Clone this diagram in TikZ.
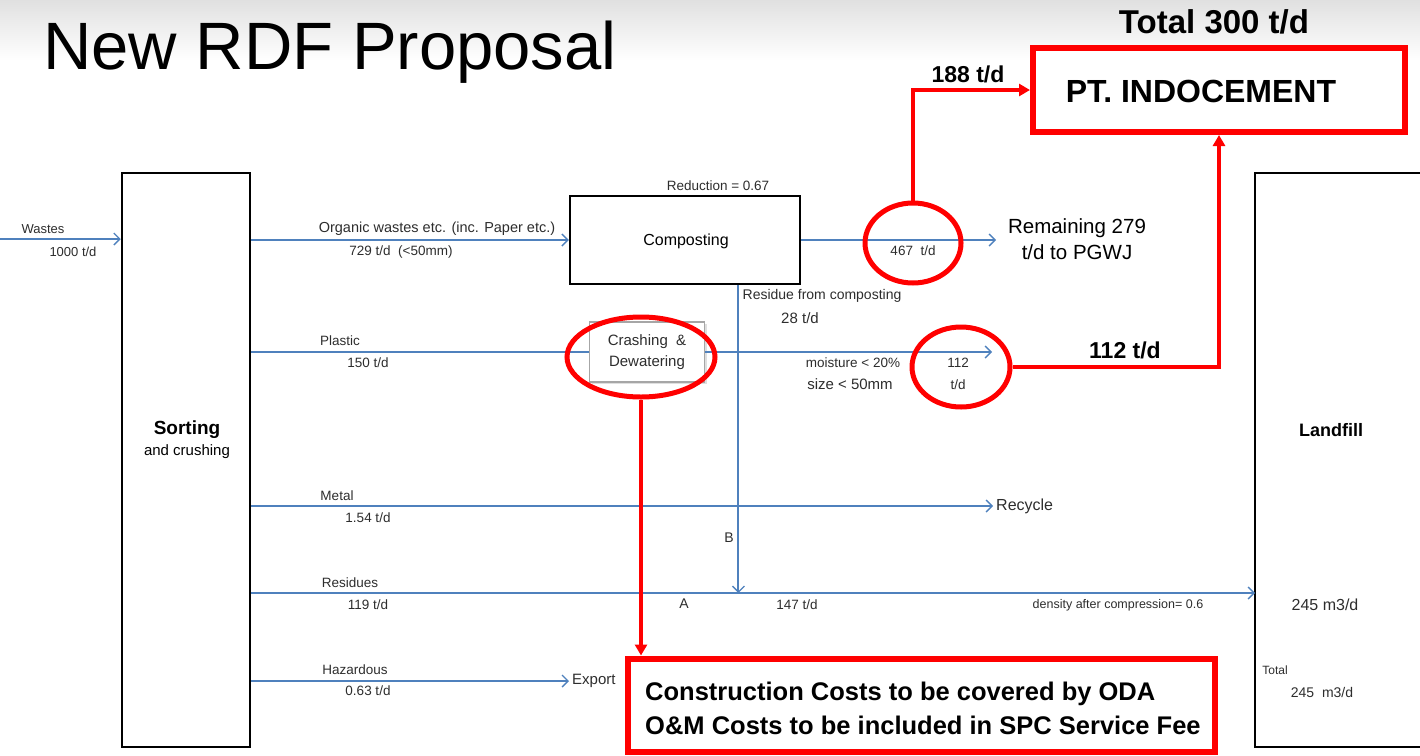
\documentclass[tikz,border=0pt]{standalone}
\usepackage{fontspec}
\setmainfont{Liberation Sans}
\usetikzlibrary{arrows.meta,shapes.geometric,shadows,calc}
\definecolor{flowblue}{RGB}{79,129,189}
\definecolor{txtgray}{RGB}{45,45,45}
\newcommand{\fs}[1]{\fontsize{#1}{#1}\selectfont}
\begin{document}
\begin{tikzpicture}[x=1pt,y=-1pt,
  lbl/.style={font=\fs{13.5}, text=txtgray, inner sep=0pt},
  flow/.style={draw=flowblue, line width=2pt, -{Straight Barb[length=6pt,width=12pt,line width=1.4pt]}},
  flowplain/.style={draw=flowblue, line width=2pt},
  redline/.style={draw=red, line width=4pt, line join=miter, -{Triangle[length=11pt,width=12pt]}},
  redring/.style={ellipse, draw=red, line width=5pt, inner sep=0pt},
  blackbox/.style={draw=black, line width=2.5pt, fill=white},
  redbox/.style={draw=red, line width=6pt, fill=white},
  boldtxt/.style={font=\bfseries\fs{23}, text=black, inner sep=0pt}
]
\useasboundingbox (0,0) rectangle (1420,755);
\shade[top color=black!12, bottom color=white] (0,0) rectangle (1420,60);

% title
\node[anchor=west, inner sep=0pt, font=\fs{67}] (title) at (43,52) {New RDF Proposal};

% main boxes
\node[blackbox, minimum width=128, minimum height=574] (sort) at (186,460) {};
\node[font=\bfseries\fs{19}, inner sep=0pt] (sortT) at (187,430) {Sorting};
\node[font=\fs{15}, inner sep=0pt] (sortT2) at (187,452) {and crushing};

\node[blackbox, minimum width=230, minimum height=88] (comp) at (685,240) {};
\node[font=\fs{16}, inner sep=0pt] (compT) at (686,241) {Composting};

\node[draw=black!35, line width=1.2pt, fill=white,
      drop shadow={opacity=0.25, shadow xshift=2pt, shadow yshift=-2pt},
      minimum width=115, minimum height=60, align=center, font=\fs{15},
      text=txtgray] (crash) at (647,352) {Crashing\ \ \&\\[6pt]Dewatering};

\node[redbox, minimum width=372, minimum height=84] (pt) at (1219,90) {};
\node[font=\bfseries\fs{32}, inner sep=0pt] (ptT) at (1201,91) {PT.\ INDOCEMENT};
\node[font=\bfseries\fs{33}, inner sep=0pt] (total) at (1214,22) {Total 300 t/d};

\node[redbox, minimum width=587, minimum height=93] (cost) at (921,705) {};
\node[boldtxt, font=\bfseries\fs{25.5}, anchor=west] (cost1) at (645,694) {Construction Costs to be covered by ODA};
\node[boldtxt, font=\bfseries\fs{25.5}, anchor=west] (cost2) at (645,725) {O\&M Costs to be included in SPC Service Fee};

% landfill (open to the right)
\coordinate (lfTL) at (1255,173);
\coordinate (lfBL) at (1255,747);
\draw[line width=2.5pt] (1420,173) -- (lfTL) -- (lfBL) -- (1420,747);
\node[font=\bfseries\fs{18}, inner sep=0pt] (lfT) at (1331,430) {Landfill};

% end labels
\node[font=\fs{16}, inner sep=3pt, anchor=west, text=txtgray] (recycle) at (993,506) {Recycle};
\node[font=\fs{15}, inner sep=3pt, anchor=west, text=txtgray] (export) at (569,681) {Export};
\node[font=\fs{20.5}, inner sep=0pt, align=center] (remain) at (1077,239) {Remaining 279\\[5pt]t/d to PGWJ};

% blue flows
\coordinate (win) at (0,239);
\draw[flow] (win) -- (win -| sort.west);
\draw[flow] (sort.east |- comp.west) -- (comp.west);
\coordinate (remend) at (996,240);
\draw[flow] (comp.east) -- (remend);
\draw[flowplain] (sort.east |- crash.west) -- (crash.west);
\coordinate (c112) at (992,352);
\draw[flow] (crash.east) -- (c112);
\draw[flow] (sort.east |- recycle.west) -- (recycle.west);
\coordinate (resend) at (lfTL |- 0,593);
\draw[flow] (sort.east |- resend) -- (resend);
\coordinate (rtop) at ($(comp.south west)!0.73!(comp.south east)$);
\draw[flow] (rtop) -- (rtop |- resend);
\draw[flow] (sort.east |- export.west) -- (export.west);

% small labels
\node[lbl, font=\fs{13}] (wst) at (43,229) {Wastes};
\node[lbl, font=\fs{13}] (wst2) at (73,252) {1000 t/d};
\node[lbl] (red) at (718,186) {Reduction = 0.67};
\node[lbl, font=\fs{14.5}] (org) at (437,229) {Organic wastes etc. (inc. Paper etc.)};
\node[lbl] (org2) at (401,252) {729 t/d\ \ (<50mm)};
\node[lbl] (t467) at (913,251) {467\ \ t/d};
\node[lbl, font=\fs{14}] (resc) at (822,296) {Residue from composting};
\node[lbl, font=\fs{15}] (resc2) at (800,318) {28 t/d};
\node[lbl] (pla) at (340,341) {Plastic};
\node[lbl] (pla2) at (368,363) {150 t/d};
\node[lbl] (moist) at (853,363) {moisture < 20\%};
\node[lbl, font=\fs{15}] (size) at (850,384) {size < 50mm};
\node[lbl] (n112) at (958,363) {112};
\node[lbl] (n112b) at (958,385) {t/d};
\node[lbl] (met) at (337,496) {Metal};
\node[lbl] (met2) at (368,518) {1.54 t/d};
\node[lbl, font=\fs{14}] (lB) at (729,538) {B};
\node[lbl] (resi) at (350,583) {Residues};
\node[lbl] (resi2) at (368,605) {119 t/d};
\node[lbl, font=\fs{14}] (lA) at (684,604) {A};
\node[lbl] (t147) at (797,605) {147 t/d};
\node[lbl, font=\fs{12.5}] (dens) at (1118,605) {density after compression= 0.6};
\node[lbl] (haz) at (355,670) {Hazardous};
\node[lbl] (haz2) at (368,691) {0.63 t/d};
\node[lbl, font=\fs{16}] (lf245) at (1325,605) {245 m3/d};
\node[lbl, font=\fs{12}] (lftot) at (1275,670) {Total};
\node[lbl, font=\fs{14}] (lftot2) at (1322,692) {245\ \ m3/d};

% red rings
\node[redring, minimum width=96, minimum height=80] (e467) at (913,243) {};
\node[redring, minimum width=98, minimum height=80] (e112) at (961,367) {};
\node[redring, minimum width=148, minimum height=80] (ecr) at (641,357) {};

% red connectors
\draw[redline] (e467.north) |- (pt.west);
\draw[redline] (e112.east) -| (pt.south);
\draw[redline] (ecr.south) -- (ecr.south |- cost.north);
\node[boldtxt] (t188) at (968,74) {188 t/d};
\node[boldtxt] (t112) at (1125,350) {112 t/d};
\end{tikzpicture}
\end{document}
